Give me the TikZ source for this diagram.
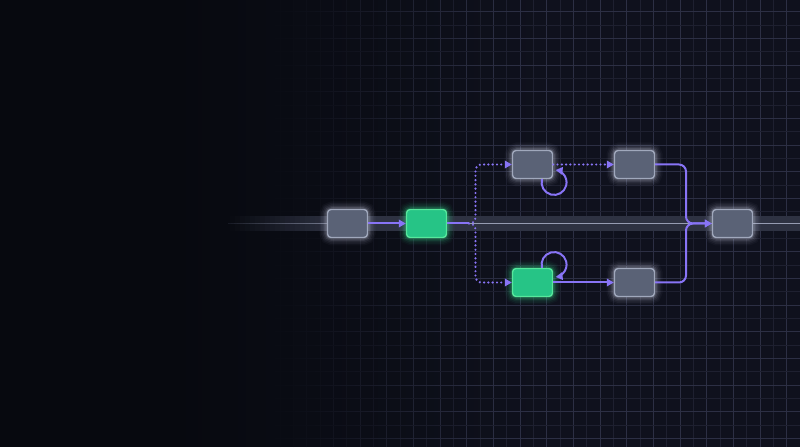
\documentclass[tikz,border=0pt]{standalone}
\usetikzlibrary{arrows.meta}
\definecolor{bgL}{RGB}{7,9,15}
\definecolor{bgR}{RGB}{15,17,29}
\definecolor{gridM}{RGB}{44,47,68}
\definecolor{gridm}{RGB}{30,32,48}
\definecolor{bandc}{RGB}{46,50,66}
\definecolor{linec}{RGB}{150,156,178}
\definecolor{purp}{RGB}{136,116,246}
\definecolor{grayfill}{RGB}{90,98,118}
\definecolor{grayedge}{RGB}{160,168,188}
\definecolor{grayglow}{RGB}{205,210,230}
\definecolor{greenfill}{RGB}{38,196,134}
\definecolor{greenedge}{RGB}{86,232,156}
\definecolor{greenglow}{RGB}{60,230,150}
\tikzset{
  gbox/.style={draw=grayedge, fill=grayfill, line width=1.4pt, rounded corners=3.5pt,
    minimum width=40pt, minimum height=28pt, inner sep=0pt},
  grbox/.style={gbox, draw=greenedge, fill=greenfill},
  arr/.style={-{Triangle[length=7pt,width=7.5pt]}, draw=purp, line width=2pt},
  dotline/.style={draw=purp, line width=2.4pt, line cap=round, dash pattern=on 0pt off 4.3pt},
  dotarr/.style={dotline, -{Triangle[length=7pt,width=7.5pt]}},
  flow/.style={draw=purp, line width=2pt}
}
% t for grid visibility (smoothstep), b for background tone, at position #1
\newcommand{\fadeat}[1]{%
  \pgfmathsetmacro\ss{min(max((#1-250)/290,0),1)}%
  \pgfmathtruncatemacro\gt{100*\ss*\ss*(3-2*\ss)}%
  \pgfmathtruncatemacro\bt{100*min(max((#1-170)/380,0),1)}%
  \colorlet{bgx}{bgR!\bt!bgL}}
\newcommand{\glowbox}[2]{%
  \foreach \w/\o in {15/0.035, 12/0.05, 9/0.07, 6/0.1, 3.5/0.14}{%
    \draw[#2, line width=\w pt, opacity=\o, rounded corners=5pt]
      ([shift={(-20.5pt,-14.5pt)}]#1) rectangle ([shift={(20.5pt,14.5pt)}]#1);}}
\begin{document}
\begin{tikzpicture}[x=1pt,y=1pt]
\useasboundingbox (0,0) rectangle (800,447);
% background
\fill[bgL] (0,0) rectangle (171,447);
\foreach \k in {0,...,94}{
  \pgfmathsetmacro\xa{170+4*\k}
  \fadeat{\xa+2}
  \fill[bgx] (\xa,0) rectangle (\xa+4.3,447);
}
\fill[bgR] (550,0) rectangle (800,447);
% grid: vertical lines
\foreach \i in {19,...,60}{
  \pgfmathsetmacro\xx{13.3333*\i}
  \fadeat{\xx}
  \ifodd\i \colorlet{gc}{gridM}\else\colorlet{gc}{gridm}\fi
  \ifnum\gt>0
    \draw[line width=0.7pt, color=gc!\gt!bgx] (\xx,0) -- (\xx,447);
  \fi
}
% grid: horizontal lines
\foreach \j in {0,...,33}{
  \pgfmathsetmacro\yy{435.3333-13.3333*\j}
  \ifodd\j \colorlet{gc}{gridm}\else\colorlet{gc}{gridM}\fi
  \foreach \k in {0,...,57}{
    \pgfmathsetmacro\xa{250+5*\k}
    \fadeat{\xa+2.5}
    \draw[line width=0.7pt, color=gc!\gt!bgx] (\xa,\yy) -- (\xa+5,\yy);
  }
  \draw[line width=0.7pt, color=gc] (540,\yy) -- (800,\yy);
}
% band
\foreach \k in {0,...,21}{
  \pgfmathsetmacro\xa{230+5*\k}
  \fadeat{\xa+2.5}
  \pgfmathtruncatemacro\bp{100*min((\k+0.5)/22,1)}
  \fill[bandc!\bp!bgx] (\xa,216) rectangle (\xa+5.3,231);
}
\fill[bandc] (340,216) rectangle (800,231);
% node positions
\coordinate (cA) at (347.5,223.5);
\coordinate (cB) at (426.5,223.5);
\coordinate (cC) at (532.5,282.5);
\coordinate (cD) at (634.5,282.5);
\coordinate (cE) at (532.5,164.5);
\coordinate (cF) at (634.5,164.5);
\coordinate (cG) at (732.5,223.5);
\coordinate (sp) at (469,223.5);
\coordinate (mg) at (686,223.5);
% center line, fading in from the left
\foreach \k in {0,...,33}{
  \pgfmathsetmacro\xa{228+3*\k}
  \pgfmathtruncatemacro\lp{65*(\k+0.5)/34}
  \pgfmathtruncatemacro\bp{100*min((\k+0.5+22)/56,1)}
  \fadeat{\xa+1.5}
  \colorlet{under}{bandc!\bp!bgx}
  \fill[linec!\lp!under] (\xa,222.9) rectangle (\xa+3.3,224.1);
}
\draw[linec, line width=1.2pt] (sp) -- (cG);
\draw[linec, line width=1.2pt] (cG) -- (800,223.5);
% glows
\glowbox{cA}{grayglow}
\glowbox{cB}{greenglow}
\glowbox{cC}{grayglow}
\glowbox{cD}{grayglow}
\glowbox{cE}{greenglow}
\glowbox{cF}{grayglow}
\glowbox{cG}{grayglow}
% nodes
\node[gbox]  (A) at (cA) {};
\node[grbox] (B) at (cB) {};
\node[gbox]  (C) at (cC) {};
\node[gbox]  (D) at (cD) {};
\node[grbox] (E) at (cE) {};
\node[gbox]  (F) at (cF) {};
\node[gbox]  (G) at (cG) {};
% connectors
\draw[arr] (A) -- (B);
\draw[flow] (B) -- (sp);
\draw[dotarr, rounded corners=6pt] (sp) -- ++(6.5,0) |- (C);
\draw[dotarr, rounded corners=6pt] (sp) -- ++(6.5,0) |- (E);
\draw[dotarr] (C) -- (D);
\draw[arr] (E) -- (F);
\draw[arr, rounded corners=7pt] (D) -| (mg) -- (G);
\draw[arr, rounded corners=7pt] (F) -| (mg) -- (G);
% self loops
\draw[arr] ([xshift=9.5pt]C.south) arc[start angle=165, end angle=443, radius=12.5pt];
\draw[arr] ([xshift=9.5pt]E.north) arc[start angle=195, end angle=-83, radius=12.5pt];
\end{tikzpicture}
\end{document}
